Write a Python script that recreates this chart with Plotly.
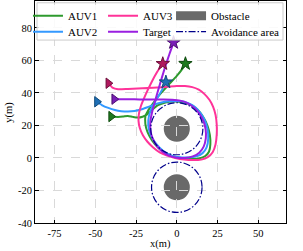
import plotly.graph_objects as go

# ---------------- data ----------------
auv1_x = [-40.3, -36, -33, -30, -27, -24, -21, -18, -15, -11.5, -7, -2, 3, 8, 12.5, 16, 18.8, 20.3, 20.6, 19.8,
          17.5, 13.5, 8.5, 3, -2, -7, -11.5, -15.3, -18, -19.3, -19.2, -18, -15, -10.5, -5, 0, 3.5, 5.3]
auv1_y = [25.5, 25.3, 25.5, 25.9, 25.3, 24.9, 25.4, 27.0, 29.8, 32.5, 34.2, 34.8, 34.5, 33.0, 30.0, 25.5, 20.0, 14.0,
          8.5, 4.0, 1.2, -0.3, -0.5, 0.0, 1.0, 3.0, 6.5, 11.0, 16.0, 21.0, 26.0, 28.5, 33.0, 39.0, 45.0, 50.5, 55.0, 58.0]

auv2_x = [-49, -46, -42, -38, -34, -30, -26, -22, -18, -14, -10, -5, 0, 5, 9.5, 13.5, 16.8, 18.8, 19.3, 18.3,
          15.8, 12, 7, 1.5, -4, -8.5, -12.5, -15.5, -17.2, -17.5, -16.5, -14.2, -11, -8.5, -6.7]
auv2_y = [34.6, 32.6, 30.8, 29.5, 28.8, 28.6, 28.9, 29.8, 31.2, 32.8, 34.0, 34.9, 35.1, 34.5, 32.5, 29.0, 24.0,
          18.0, 12.0, 6.5, 3.0, 1.0, 0.3, 0.5, 1.8, 4.5, 8.5, 13.0, 18.0, 23.0, 28.0, 33.0, 38.5, 43.0, 46.7]

auv3_x = [-42, -39.5, -36, -30, -24, -18, -12, -6, 0, 5, 9.5, 13.5, 17, 20, 22.3, 23.8, 24.5, 24.5, 23.8, 22,
          19, 15, 10, 4.5, -1, -6, -10.5, -14.5, -18, -20.8, -22.7, -23.5, -23.2, -22, -20, -17.5, -14.8, -12,
          -10, -8.6]
auv3_y = [46, 43.3, 42.3, 42.5, 42.8, 43.0, 43.3, 43.8, 44.3, 44.3, 43.6, 42.0, 39.3, 35.8, 31.5, 26.5, 20.5,
          14.5, 8.5, 3.5, 0.5, -1.0, -1.3, -1.0, 0.0, 1.5, 3.5, 6.5, 10.0, 14.0, 18.5, 23.0, 27.5, 32.0, 37.0,
          42.5, 48.0, 53.0, 56.3, 58.0]

target_x = [-38.4, -32, -26, -20, -14, -8, -3, 2, 6.5, 10.5, 13.8, 16.3, 17.7, 17.8, 16.5, 13.8, 9.8, 5, 0,
            -4.8, -9, -12.5, -15, -16.2, -16.2, -15.2, -13.5, -11.5, -9.3, -7, -4.5, -2]
target_y = [36.2, 36.1, 36.1, 36.0, 36.0, 36.0, 35.8, 35.3, 33.8, 31.0, 27.3, 22.8, 17.5, 12.0, 7.0, 3.3, 1.0,
            0.0, 0.2, 1.5, 4.0, 7.8, 12.5, 17.5, 22.5, 28.0, 34.5, 41.5, 49.0, 56.5, 64.0, 71.0]

obstacle_cx = [0, 0]
obstacle_cy = [18, -18]
obstacle_r = [8, 8]
avoid_r = [16, 15.5]

x_ticks = [-75, -50, -25, 0, 25, 50]
x_tick_labels = ["-75", "-50", "-25", "0", "25", "50"]
y_ticks = [-40, -20, 0, 20, 40, 60, 80]
y_tick_labels = ["-40", "-20", "0", "20", "40", "60", "80"]

# ---------------- styles ----------------
FONT = "Liberation Serif, Times New Roman, serif"
DASHDOT = "7px,2px,1.5px,2px"
series = [
    ("AUV1", auv1_x, auv1_y, "#2e9a2e", "#1f7a1f", "#0f4a0f", "legend"),
    ("AUV2", auv2_x, auv2_y, "#3399ff", "#1f6fb5", "#124a7a", "legend2"),
    ("AUV3", auv3_x, auv3_y, "#ff3399", "#b0185e", "#6e0f3b", "legend3"),
    ("Target", target_x, target_y, "#9a1fe0", "#7a1fb5", "#4a0f70", "legend4"),
]

fig = go.Figure()

for name, xs, ys, col, mcol, ecol, lg in series:
    fig.add_trace(go.Scatter(x=xs, y=ys, mode="lines", name=name, legend=lg,
                             line=dict(color=col, width=2, shape="spline", smoothing=0.6)))

for name, xs, ys, col, mcol, ecol, lg in series:
    fig.add_trace(go.Scatter(x=[xs[0]], y=[ys[0]], mode="markers", showlegend=False,
                             marker=dict(symbol="triangle-right", size=9, color=mcol,
                                         line=dict(color=ecol, width=1))))
    fig.add_trace(go.Scatter(x=[xs[-1]], y=[ys[-1]], mode="markers", showlegend=False,
                             marker=dict(symbol="star", size=10, color=mcol,
                                         line=dict(color=ecol, width=1))))

# legend-only entries for obstacle / avoidance area
fig.add_trace(go.Scatter(x=[None], y=[None], mode="lines", name="Obstacle", legend="legend5",
                         line=dict(color="#696969", width=9)))
fig.add_trace(go.Scatter(x=[None], y=[None], mode="lines", name="Avoidance area", legend="legend6",
                         line=dict(color="#00008b", width=1.3, dash=DASHDOT)))

for cx, cy, r, ar in zip(obstacle_cx, obstacle_cy, obstacle_r, avoid_r):
    fig.add_shape(type="circle", xref="x", yref="y", x0=cx - r, x1=cx + r, y0=cy - r, y1=cy + r,
                  fillcolor="#696969", line=dict(width=0), layer="below")
    fig.add_shape(type="circle", xref="x", yref="y", x0=cx - ar, x1=cx + ar, y0=cy - ar, y1=cy + ar,
                  line=dict(color="#00008b", width=1.2, dash=DASHDOT), layer="above")

# legend frame
fig.add_shape(type="rect", xref="paper", yref="paper", x0=0.008, x1=0.988, y0=0.824, y1=0.992,
              fillcolor="rgba(255,255,255,0.85)", line=dict(color="#cccccc", width=1), layer="above")

def leg(x, y):
    return dict(x=x, y=y, xanchor="left", yanchor="middle", bgcolor="rgba(0,0,0,0)", borderwidth=0,
                font=dict(family=FONT, size=11, color="black"), tracegroupgap=0, itemwidth=30)

col_x = [-0.028, 0.271, 0.542]
row_y = [0.934, 0.862]

axis_common = dict(showline=True, linecolor="black", linewidth=1, mirror="ticks",
                   ticks="inside", ticklen=3.5, tickwidth=0.8, tickcolor="black",
                   showgrid=True, gridcolor="#d9d9d9", gridwidth=0.8, griddash="dash",
                   zeroline=False, automargin=False,
                   tickfont=dict(family=FONT, size=10.5, color="black"))

fig.update_layout(
    width=303, height=251,
    margin=dict(l=35, r=17, t=1, b=28),
    paper_bgcolor="white", plot_bgcolor="white",
    font=dict(family=FONT, size=10.5, color="black"),
    legend=leg(col_x[0], row_y[0]),
    legend2=leg(col_x[0], row_y[1]),
    legend3=leg(col_x[1], row_y[0]),
    legend4=leg(col_x[1], row_y[1]),
    legend5=leg(col_x[2], row_y[0]),
    legend6=leg(col_x[2], row_y[1]),
    xaxis=dict(range=[-87, 67], tickvals=x_ticks, ticktext=x_tick_labels, **axis_common),
    yaxis=dict(range=[-40, 96.6], tickvals=y_ticks, ticktext=y_tick_labels, **axis_common),
    annotations=[
        dict(text="x(m)", xref="paper", yref="paper", x=0.5, y=-0.095, xanchor="center", yanchor="middle",
             showarrow=False, font=dict(family=FONT, size=10.5, color="black")),
        dict(text="y(m)", xref="paper", yref="paper", x=-0.105, y=0.5, xanchor="center", yanchor="middle",
             textangle=-90, showarrow=False, font=dict(family=FONT, size=10.5, color="black")),
    ],
)

fig.write_html("out.html", config={"displayModeBar": False},
               post_script="document.body.style.margin='0px';")
